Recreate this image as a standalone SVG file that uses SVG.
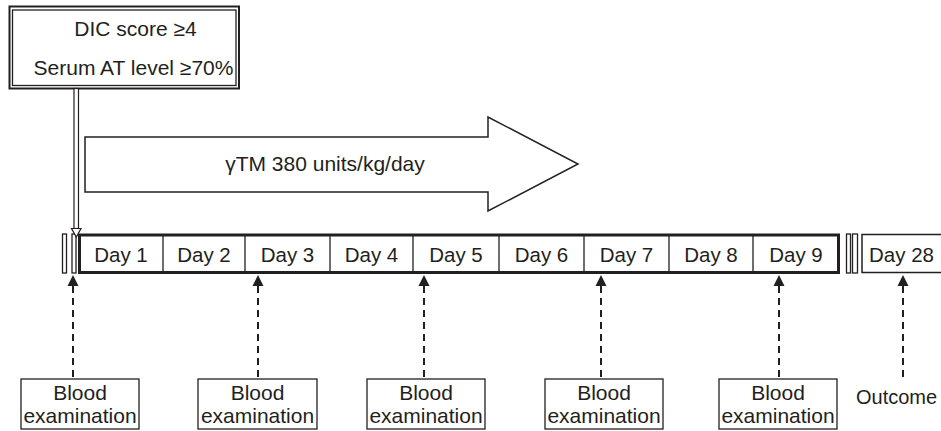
<svg xmlns="http://www.w3.org/2000/svg" width="941" height="431" viewBox="0 0 941 431">
<style>
text{font-family:"Liberation Sans",Arial,sans-serif;fill:#231f20;font-size:21px;}
.day{font-size:20.5px;}
.thin{fill:#fff;stroke:#231f20;stroke-width:1.3;}
.dash{stroke:#231f20;stroke-width:2;stroke-dasharray:7 5;fill:none;}
.head{fill:#231f20;}
</style>
<rect width="941" height="431" fill="#fff"/>

<g id="criteria">
<rect x="9.5" y="6.5" width="229.5" height="82" fill="#fff" stroke="#231f20" stroke-width="2"/>
<rect x="12.5" y="10" width="223.5" height="75.5" fill="none" stroke="#231f20" stroke-width="1.3"/>
<text x="135.5" y="36" text-anchor="middle">DIC score ≥4</text>
<text x="133.5" y="75" text-anchor="middle">Serum AT level ≥70%</text>
</g>

<g id="treatment">
<polygon points="85,137 488,137 488,117 578,164 488,211 488,192 85,192" fill="#fff" stroke="#231f20" stroke-width="1.5"/>
<text x="325" y="171" text-anchor="middle">γTM 380 units/kg/day</text>
</g>

<g id="timeline">
<rect x="62.5" y="234" width="4" height="39" class="thin"/>
<rect x="72" y="234" width="4" height="39" class="thin"/>
<rect x="79.5" y="235" width="759" height="37.5" fill="#fff" stroke="#231f20" stroke-width="3"/>
<g stroke="#231f20" stroke-width="1.3">
<line x1="163" y1="235" x2="163" y2="272"/>
<line x1="245" y1="235" x2="245" y2="272"/>
<line x1="330" y1="235" x2="330" y2="272"/>
<line x1="413" y1="235" x2="413" y2="272"/>
<line x1="499" y1="235" x2="499" y2="272"/>
<line x1="584" y1="235" x2="584" y2="272"/>
<line x1="669" y1="235" x2="669" y2="272"/>
<line x1="753" y1="235" x2="753" y2="272"/>
</g>
<text class="day" x="121" y="262" text-anchor="middle">Day 1</text>
<text class="day" x="204" y="262" text-anchor="middle">Day 2</text>
<text class="day" x="287.5" y="262" text-anchor="middle">Day 3</text>
<text class="day" x="371.5" y="262" text-anchor="middle">Day 4</text>
<text class="day" x="456" y="262" text-anchor="middle">Day 5</text>
<text class="day" x="541.5" y="262" text-anchor="middle">Day 6</text>
<text class="day" x="626.5" y="262" text-anchor="middle">Day 7</text>
<text class="day" x="711" y="262" text-anchor="middle">Day 8</text>
<text class="day" x="796" y="262" text-anchor="middle">Day 9</text>
<rect x="846.5" y="234" width="4" height="39" class="thin"/>
<rect x="852.5" y="234" width="5" height="39" class="thin"/>
<rect x="862" y="234.5" width="90" height="38" fill="#fff" stroke="#231f20" stroke-width="1.5"/>
<text class="day" x="869" y="262">Day 28</text>
</g>

<g id="start-arrow">
<rect x="74" y="88.5" width="4.5" height="140" fill="#fff" stroke="#231f20" stroke-width="1.2"/>
<polygon points="71.5,228.5 81,228.5 76.3,237" fill="#fff" stroke="#231f20" stroke-width="1.2"/>
</g>

<g id="connectors">
<line class="dash" x1="73" y1="286" x2="73" y2="379"/>
<polygon class="head" points="73,275 67.5,286 78.5,286"/>
<line class="dash" x1="258" y1="286" x2="258" y2="379"/>
<polygon class="head" points="258,275 252.5,286 263.5,286"/>
<line class="dash" x1="424" y1="286" x2="424" y2="379"/>
<polygon class="head" points="424,275 418.5,286 429.5,286"/>
<line class="dash" x1="601" y1="286" x2="601" y2="379"/>
<polygon class="head" points="601,275 595.5,286 606.5,286"/>
<line class="dash" x1="779" y1="286" x2="779" y2="379"/>
<polygon class="head" points="779,275 773.5,286 784.5,286"/>
<line class="dash" x1="903" y1="286" x2="903" y2="379"/>
<polygon class="head" points="903,275 897.5,286 908.5,286"/>
</g>

<g id="blood1">
<rect x="21" y="379" width="118" height="50" class="thin"/>
<text x="80" y="400" text-anchor="middle">Blood</text>
<text x="80" y="423" text-anchor="middle">examination</text>
</g>
<g id="blood2">
<rect x="198" y="379" width="119" height="50" class="thin"/>
<text x="257.5" y="400" text-anchor="middle">Blood</text>
<text x="257.5" y="423" text-anchor="middle">examination</text>
</g>
<g id="blood3">
<rect x="367" y="379" width="118" height="50" class="thin"/>
<text x="426" y="400" text-anchor="middle">Blood</text>
<text x="426" y="423" text-anchor="middle">examination</text>
</g>
<g id="blood4">
<rect x="545" y="379" width="118" height="50" class="thin"/>
<text x="604" y="400" text-anchor="middle">Blood</text>
<text x="604" y="423" text-anchor="middle">examination</text>
</g>
<g id="blood5">
<rect x="719" y="379" width="118" height="50" class="thin"/>
<text x="778" y="400" text-anchor="middle">Blood</text>
<text x="778" y="423" text-anchor="middle">examination</text>
</g>
<g id="outcome">
<text x="856" y="404" style="font-size:20px">Outcome</text>
</g>
</svg>
